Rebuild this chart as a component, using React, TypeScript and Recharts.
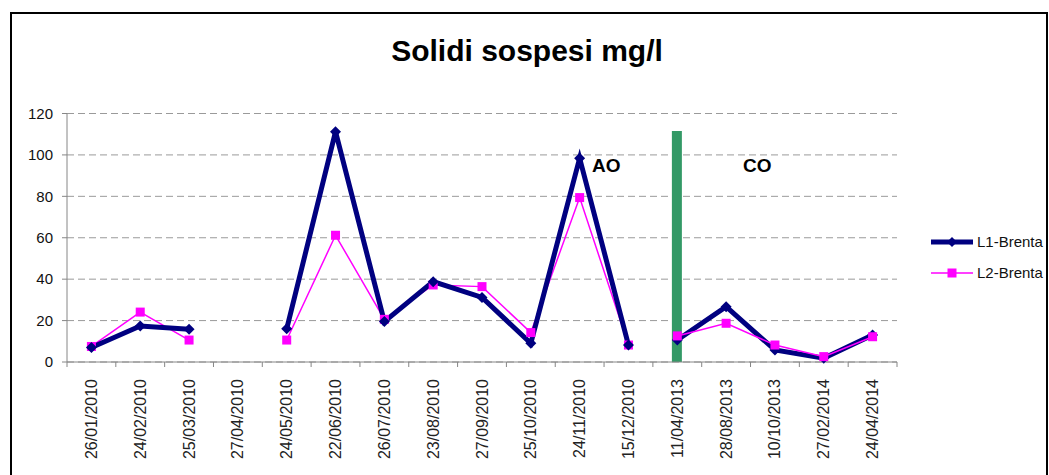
import React from "react";
import {
  Bar,
  CartesianGrid,
  ComposedChart,
  Line,
  XAxis,
  YAxis,
} from "recharts";

const dates = [
  "26/01/2010", "24/02/2010", "25/03/2010", "27/04/2010", "24/05/2010",
  "22/06/2010", "26/07/2010", "23/08/2010", "27/09/2010", "25/10/2010",
  "24/11/2010", "15/12/2010", "11/04/2013", "28/08/2013", "10/10/2013",
  "27/02/2014", "24/04/2014",
];

const l1Brenta = [7, 17.4, 15.8, null, 16, 111.2, 19.5, 38.8, 31.2, 9, 98.4, 8.2, 10.6, 26.7, 5.8, 1.8, 13];
const l2Brenta = [7.5, 24.1, 10.6, null, 10.6, 61.2, 20.6, 37.2, 36.4, 14.2, 79.4, 8.2, 12.6, 18.7, 8.2, 2.6, 12.2];

// green separator between the two periods (AO / CO)
const coStartDate = "11/04/2013";
const separatorValue = 111.5;

const yTicks = [0, 20, 40, 60, 80, 100, 120];

const coStart = dates.indexOf(coStartDate);

const data = dates.map((d, i) => ({
  date: d,
  l1ao: i < coStart ? l1Brenta[i] : null,
  l2ao: i < coStart ? l2Brenta[i] : null,
  l1co: i >= coStart ? l1Brenta[i] : null,
  l2co: i >= coStart ? l2Brenta[i] : null,
  sep: i === coStart ? separatorValue : null,
}));

const NAVY = "#000080";
const MAGENTA = "#FF00FF";
const GREEN = "#339966";
const AXIS = "#868686";

const PLOT_W = 830;
const BAND = PLOT_W / dates.length;

function Diamond(props: any) {
  const { cx, cy, index } = props;
  if (cx == null || cy == null || props.value == null) return <g key={index} />;
  const r = 5.5;
  return (
    <path
      key={index}
      d={`M${cx},${cy - r}L${cx + r},${cy}L${cx},${cy + r}L${cx - r},${cy}Z`}
      fill={NAVY}
    />
  );
}

function Square(props: any) {
  const { cx, cy, index } = props;
  if (cx == null || cy == null || props.value == null) return <g key={index} />;
  const s = 4.5;
  return <rect key={index} x={cx - s} y={cy - s} width={s * 2} height={s * 2} fill={MAGENTA} />;
}

function DateTick(props: any) {
  const { x, y, payload, index } = props;
  const left = x - BAND / 2;
  return (
    <g>
      <line x1={left} y1={y - 8} x2={left} y2={y - 3} stroke={AXIS} />
      {index === dates.length - 1 && (
        <line x1={x + BAND / 2} y1={y - 8} x2={x + BAND / 2} y2={y - 3} stroke={AXIS} />
      )}
      <text
        x={x}
        y={y}
        transform={`rotate(-90 ${x} ${y + 4})`}
        dx={-5}
        dy={9.5}
        textAnchor="end"
        fontSize={16}
        fill="#222"
        fontFamily="Liberation Sans"
      >
        {payload.value}
      </text>
    </g>
  );
}

function LegendBox() {
  const items = [
    { name: "L1-Brenta", color: NAVY, width: 5, marker: "diamond" },
    { name: "L2-Brenta", color: MAGENTA, width: 1.5, marker: "square" },
  ];
  return (
    <div style={{ position: "absolute", left: 929, top: 226 }}>
      {items.map((it) => (
        <div key={it.name} style={{ display: "flex", alignItems: "center", height: 31 }}>
          <svg width={46} height={14}>
            <line x1={2} y1={7} x2={44} y2={7} stroke={it.color} strokeWidth={it.width} />
            {it.marker === "diamond" ? (
              <path d="M23,2L28,7L23,12L18,7Z" fill={it.color} />
            ) : (
              <rect x={18.5} y={2.5} width={9} height={9} fill={it.color} />
            )}
          </svg>
          <span style={{ fontSize: 15, color: "#111", fontFamily: "Liberation Sans", marginLeft: 2 }}>
            {it.name}
          </span>
        </div>
      ))}
    </div>
  );
}

export default function App() {
  return (
    <div
      style={{
        position: "absolute",
        left: 0,
        top: 0,
        width: 1049,
        height: 475,
        overflow: "hidden",
        background: "#fff",
        fontFamily: "Liberation Sans",
      }}
    >
      <div
        style={{
          position: "absolute",
          left: 10,
          top: 12,
          width: 1034,
          height: 480,
          border: "2px solid #000",
        }}
      />
      <div
        style={{
          position: "absolute",
          left: 0,
          width: 1054,
          top: 34,
          textAlign: "center",
          fontSize: 30,
          fontWeight: "bold",
          color: "#000",
        }}
      >
        Solidi sospesi mg/l
      </div>
      <ComposedChart
        width={1049}
        height={475}
        data={data}
        margin={{ top: 113.5, right: 152, left: 0, bottom: 13 }}
      >
        <CartesianGrid vertical={false} stroke="#9a9a9a" strokeDasharray="7 4" />
        <XAxis
          dataKey="date"
          interval={0}
          height={100}
          tickLine={false}
          stroke={AXIS}
          tick={<DateTick />}
        />
        <YAxis
          domain={[0, 120]}
          ticks={yTicks}
          width={67}
          stroke={AXIS}
          tickSize={5}
          tickMargin={9}
          tick={{ fontSize: 15, fill: "#111", fontFamily: "Liberation Sans" }}
        />
        <Bar dataKey="sep" fill={GREEN} barSize={10} isAnimationActive={false} />
        <Line
          dataKey="l2ao"
          stroke={MAGENTA}
          strokeWidth={1.5}
          dot={Square}
          activeDot={false}
          isAnimationActive={false}
        />
        <Line
          dataKey="l1ao"
          stroke={NAVY}
          strokeWidth={5}
          dot={Diamond}
          activeDot={false}
          isAnimationActive={false}
        />
        <Line
          dataKey="l1co"
          stroke={NAVY}
          strokeWidth={5}
          dot={Diamond}
          activeDot={false}
          isAnimationActive={false}
        />
        <Line
          dataKey="l2co"
          stroke={MAGENTA}
          strokeWidth={1.5}
          dot={Square}
          activeDot={false}
          isAnimationActive={false}
        />
      </ComposedChart>
      <LegendBox />
      <div style={{ position: "absolute", left: 592, top: 155, fontSize: 19, fontWeight: "bold" }}>AO</div>
      <div style={{ position: "absolute", left: 743, top: 155, fontSize: 19, fontWeight: "bold" }}>CO</div>
    </div>
  );
}
